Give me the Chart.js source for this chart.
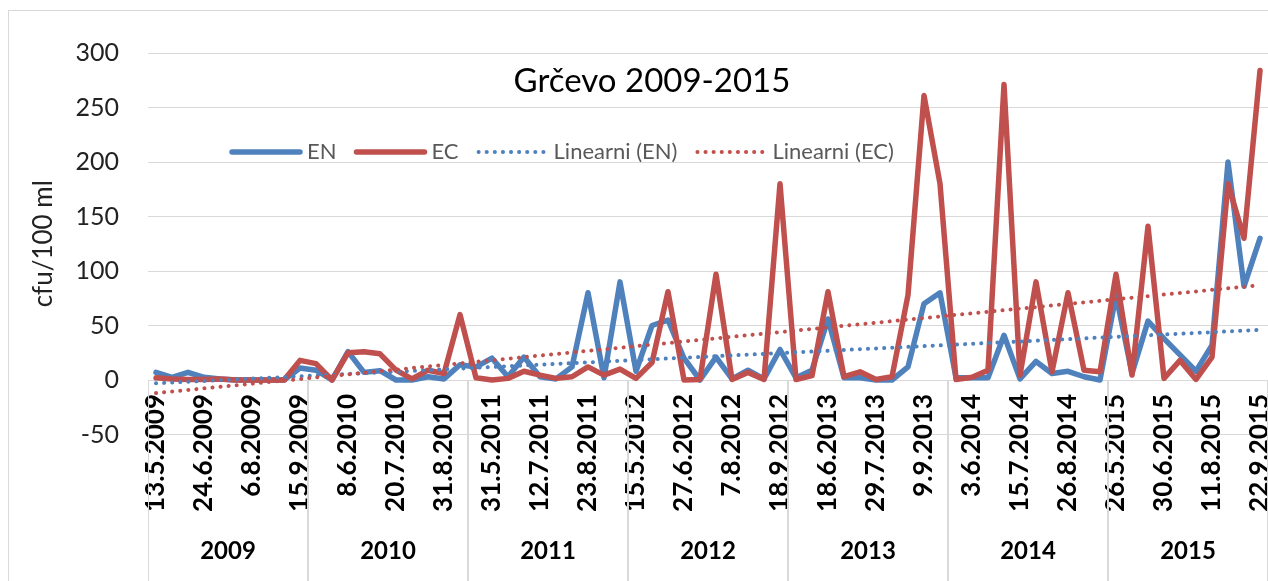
<!DOCTYPE html>
<html>
<head>
<meta charset="utf-8">
<title>Grčevo 2009-2015</title>
<script src="https://cdn.jsdelivr.net/npm/chart.js@4.4.1/dist/chart.umd.min.js"></script>
<style>
  html, body { margin: 0; padding: 0; background: #fff; }
  #wrap { position: relative; width: 1268px; height: 581px; }
</style>
</head>
<body>
<div id="wrap"><canvas id="grcevoChart"></canvas></div>
<script>
// Sampling dates, 10 per bathing season
const datumi = [
    '13.5.2009', '27.5.2009', '10.6.2009', '24.6.2009', '8.7.2009', '22.7.2009', '6.8.2009', '19.8.2009', '2.9.2009', '15.9.2009',
    '11.5.2010', '25.5.2010', '8.6.2010', '22.6.2010', '6.7.2010', '20.7.2010', '3.8.2010', '17.8.2010', '31.8.2010', '14.9.2010',
    '17.5.2011', '31.5.2011', '14.6.2011', '28.6.2011', '12.7.2011', '26.7.2011', '9.8.2011', '23.8.2011', '6.9.2011', '20.9.2011',
    '15.5.2012', '29.5.2012', '12.6.2012', '27.6.2012', '10.7.2012', '24.7.2012', '7.8.2012', '21.8.2012', '4.9.2012', '18.9.2012',
    '21.5.2013', '4.6.2013', '18.6.2013', '2.7.2013', '16.7.2013', '29.7.2013', '13.8.2013', '27.8.2013', '9.9.2013', '23.9.2013',
    '20.5.2014', '3.6.2014', '17.6.2014', '1.7.2014', '15.7.2014', '29.7.2014', '12.8.2014', '26.8.2014', '9.9.2014', '23.9.2014',
    '26.5.2015', '9.6.2015', '16.6.2015', '30.6.2015', '14.7.2015', '28.7.2015', '11.8.2015', '25.8.2015', '8.9.2015', '22.9.2015'
];

// cfu/100 ml
const en = [
    7, 2.5, 7, 2.5, 1, 0, 0, 0, 0, 11,
    9, 0, 26, 7, 8.5, 0, 0, 3, 1, 14,
    12, 20, 3, 21, 3, 1, 12, 80, 2, 90,
    8, 50, 55, 20, 0, 21, 1, 9, 1, 28,
    2, 9, 56, 2, 2, 0, 0, 12, 70, 80,
    2, 2, 2, 41, 1, 17, 6, 8, 3, 0,
    78, 6, 54, 38, 23, 8, 32, 200, 86, 130
];
const ec = [
    2, 1, 0.5, 0.5, 1, 0, 0, 0, 0, 18,
    15, 0, 25, 26, 24, 9, 1, 9, 6, 60,
    2, 0, 1.5, 8, 4.5, 1.5, 3, 12, 4.5, 10,
    1.5, 16, 81, 0, 0.5, 97, 0.5, 7, 0.5, 180,
    0.5, 4, 81, 3, 7.5, 0.5, 3, 78, 261, 180,
    0.5, 2.5, 9, 271, 4.5, 90, 7.5, 80, 9, 7.5,
    97, 4.5, 141, 1.5, 18, 0.5, 21, 180, 130, 284
];

// linear trend, value at first and last sampling date
const trendEN = [-3, 46];
const trendEC = [-12, 87];

const yMin = -50;
const yMax = 300;
const yStep = 50;

const FONT = 'Lato, sans-serif';
const GRID = '#d9d9d9';
const BLUE = '#4f81bd';
const RED = '#c0504d';

const trendPoints = (ends) => [
    { x: datumi[0], y: ends[0] },
    { x: datumi[datumi.length - 1], y: ends[1] }
];

// year row under the date labels, with group dividers
const yearAxis = {
    id: 'yearAxis',
    afterDraw(chart) {
        const { ctx, scales: { x, y } } = chart;
        const half = (x.getPixelForValue(1) - x.getPixelForValue(0)) / 2;
        const top = y.getPixelForValue(0);
        const groups = [];
        datumi.forEach((d, i) => {
            const yr = d.split('.')[2];
            const last = groups[groups.length - 1];
            if (last && last.year === yr) last.end = i;
            else groups.push({ year: yr, start: i, end: i });
        });
        ctx.save();
        ctx.strokeStyle = GRID;
        ctx.lineWidth = 1;
        ctx.fillStyle = '#000';
        ctx.font = `bold 24px ${FONT}`;
        ctx.textAlign = 'center';
        ctx.textBaseline = 'middle';
        groups.forEach(g => {
            const x0 = Math.round(x.getPixelForValue(g.start) - half) + 0.5;
            const x1 = Math.round(x.getPixelForValue(g.end) + half) - 0.5;
            ctx.beginPath();
            ctx.moveTo(x0, top);
            ctx.lineTo(x0, chart.height);
            ctx.moveTo(x1, top);
            ctx.lineTo(x1, chart.height);
            ctx.stroke();
            ctx.fillText(g.year, (x0 + x1) / 2, 551);
        });
        ctx.restore();
    }
};

// title and legend sit inside the plot area
const overlay = {
    id: 'overlay',
    afterDraw(chart) {
        const { ctx } = chart;
        ctx.save();
        ctx.strokeStyle = GRID;
        ctx.lineWidth = 1;
        ctx.strokeRect(8.5, 10.5, chart.width, chart.height);

        ctx.fillStyle = '#000';
        ctx.font = `33px ${FONT}`;
        ctx.textAlign = 'center';
        ctx.textBaseline = 'middle';
        ctx.fillText('Grčevo 2009-2015', 652, 81);

        let lx = 232;
        const ly = 152;
        ctx.font = `22px ${FONT}`;
        ctx.textAlign = 'left';
        chart.data.datasets.forEach(ds => {
            ctx.beginPath();
            ctx.strokeStyle = ds.borderColor;
            ctx.lineWidth = ds.borderWidth;
            ctx.lineCap = 'round';
            ctx.setLineDash(ds.borderDash || []);
            ctx.moveTo(lx, ly);
            ctx.lineTo(lx + 68, ly);
            ctx.stroke();
            ctx.setLineDash([]);
            ctx.fillStyle = '#595959';
            ctx.fillText(ds.label, lx + 75, ly);
            lx += 75 + ctx.measureText(ds.label).width + 20;
        });
        ctx.restore();
    }
};

new Chart(document.getElementById('grcevoChart'), {
    type: 'line',
    data: {
        labels: datumi,
        datasets: [
            { label: 'EN', data: en, borderColor: BLUE, borderWidth: 5.5, order: 4 },
            { label: 'EC', data: ec, borderColor: RED, borderWidth: 5.5, order: 3 },
            { label: 'Linearni (EN)', data: trendPoints(trendEN), borderColor: BLUE, borderWidth: 4, borderDash: [0.1, 8], order: 2 },
            { label: 'Linearni (EC)', data: trendPoints(trendEC), borderColor: RED, borderWidth: 4, borderDash: [0.1, 8], order: 1 }
        ]
    },
    options: {
        responsive: true,
        maintainAspectRatio: false,
        animation: false,
        events: [],
        layout: { padding: { top: 53, right: 0, bottom: 146.5, left: 0 } },
        elements: {
            line: { tension: 0, borderCapStyle: 'round', borderJoinStyle: 'round', fill: false },
            point: { radius: 0 }
        },
        scales: {
            x: {
                type: 'category',
                position: { y: 0 },
                offset: true,
                grid: { display: false, drawTicks: false },
                border: { display: true, color: GRID, width: 1 },
                ticks: {
                    autoSkip: false,
                    minRotation: 90,
                    maxRotation: 90,
                    padding: 14,
                    color: '#000',
                    font: { family: FONT, size: 26, weight: 'bold' },
                    callback: (v, i) => (i % 3 === 0 ? datumi[i] : '')
                },
                afterFit: (s) => { s.paddingLeft = 0; s.paddingRight = 0; }
            },
            y: {
                min: yMin,
                max: yMax,
                ticks: {
                    stepSize: yStep,
                    padding: 29,
                    color: '#222',
                    font: { family: FONT, size: 25 }
                },
                grid: { color: GRID, lineWidth: 1, drawTicks: false },
                border: { display: false },
                title: {
                    display: true,
                    text: 'cfu/100 ml',
                    color: '#222',
                    font: { family: FONT, size: 26 },
                    padding: { top: 28, bottom: 0 }
                },
                afterFit: (s) => { s.width = 148; }
            }
        },
        plugins: {
            legend: { display: false },
            tooltip: { enabled: false }
        }
    },
    plugins: [yearAxis, overlay]
});
</script>
</body>
</html>
